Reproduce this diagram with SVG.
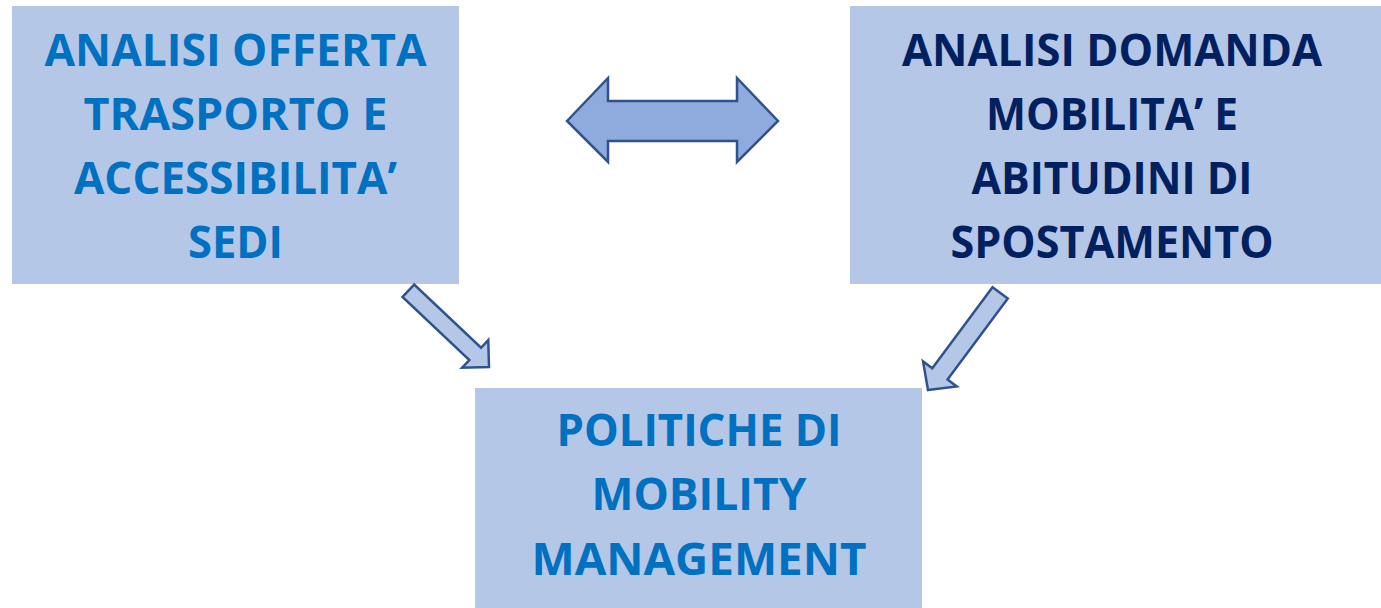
<svg xmlns="http://www.w3.org/2000/svg" width="1381" height="608" viewBox="0 0 1381 608">
<style>
.box{fill:#B4C7E7;}
.t{font-family:"Open Sans","Liberation Sans",sans-serif;font-weight:700;font-size:44px;text-anchor:middle;}
.lb{fill:#0070C0;}
.db{fill:#002060;}
.arr{stroke:#2F528F;stroke-width:2.5;stroke-linejoin:miter;}
</style>
<rect width="1381" height="608" fill="#FFFFFF"/>
<g id="node-offerta">
<rect class="box" x="12" y="6" width="447" height="278"/>
<text class="t lb" x="235.5" y="66" textLength="382" lengthAdjust="spacingAndGlyphs">ANALISI OFFERTA</text>
<text class="t lb" x="235.5" y="130" textLength="304" lengthAdjust="spacingAndGlyphs">TRASPORTO E</text>
<text class="t lb" x="235.5" y="194" textLength="323" lengthAdjust="spacingAndGlyphs">ACCESSIBILITA’</text>
<text class="t lb" x="235.5" y="258" textLength="95" lengthAdjust="spacingAndGlyphs">SEDI</text>
</g>
<g id="node-domanda">
<rect class="box" x="850" y="6" width="531" height="278"/>
<text class="t db" x="1112" y="66" textLength="420" lengthAdjust="spacingAndGlyphs">ANALISI DOMANDA</text>
<text class="t db" x="1112" y="130" textLength="252" lengthAdjust="spacingAndGlyphs">MOBILITA’ E</text>
<text class="t db" x="1112" y="194" textLength="281" lengthAdjust="spacingAndGlyphs">ABITUDINI DI</text>
<text class="t db" x="1112" y="258" textLength="323" lengthAdjust="spacingAndGlyphs">SPOSTAMENTO</text>
</g>
<g id="node-politiche">
<rect class="box" x="475" y="388" width="447" height="220"/>
<text class="t lb" x="699" y="446" textLength="285" lengthAdjust="spacingAndGlyphs">POLITICHE DI</text>
<text class="t lb" x="699" y="510" textLength="215" lengthAdjust="spacingAndGlyphs">MOBILITY</text>
<text class="t lb" x="699" y="575" textLength="335" lengthAdjust="spacingAndGlyphs">MANAGEMENT</text>
</g>
<g id="connectors">
<polygon class="arr" fill="#8FAADC" points="567,121 608,78 608,101 737,101 737,78 778,121 737,162 737,141 608,141 608,162"/>
<polygon class="arr" fill="#B4C7E7" transform="translate(489,367) rotate(43.4)" points="0,0 -19,-19 -19,-8.5 -111,-8.5 -111,8.5 -19,8.5 -19,19"/>
<polygon class="arr" fill="#B4C7E7" transform="translate(928,390) rotate(126.6)" points="0,0 -20,-21 -20,-9.5 -121,-9.5 -121,9.5 -20,9.5 -20,21"/>
</g>
</svg>
